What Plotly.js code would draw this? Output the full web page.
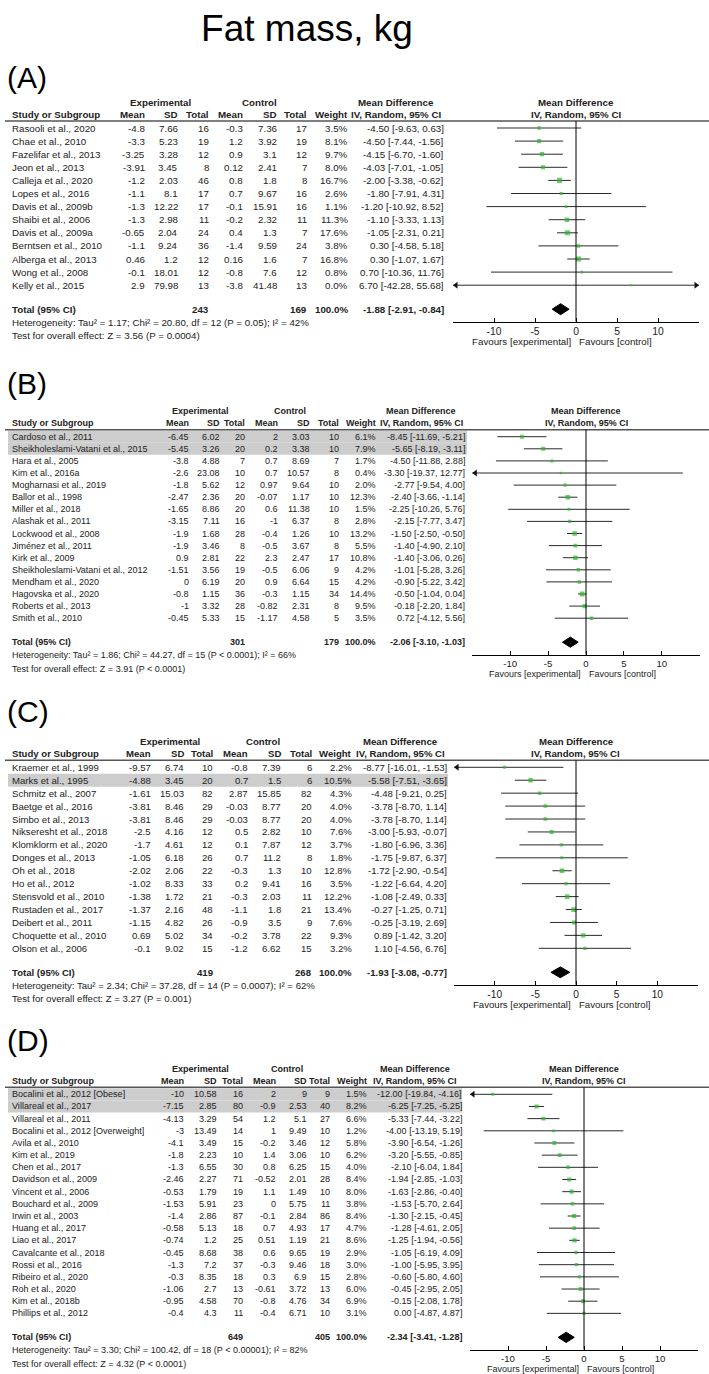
<!DOCTYPE html>
<html><head><meta charset="utf-8">
<script src="https://cdn.plot.ly/plotly-3.0.1.min.js"></script>
<style>html,body{margin:0;padding:0;background:#fff}#chart{width:709px;height:1374px}</style>
</head><body><div id="chart"></div>
<script>
// ---------- Panel A ----------
const studiesA = ["Rasooli et al., 2020","Chae et al., 2010","Fazelifar et al., 2013","Jeon et al., 2013","Calleja et al., 2020","Lopes et al., 2016","Davis et al., 2009b","Shaibi et al., 2006","Davis et al., 2009a","Berntsen et al., 2010","Alberga et al., 2013","Wong et al., 2008","Kelly et al., 2015"];
const expMeanA = [-4.8,-3.3,-3.25,-3.91,-1.2,-1.1,-1.3,-1.3,-0.65,-1.1,0.46,-0.1,2.9];
const expSDA = [7.66,5.23,3.28,3.45,2.03,8.1,12.22,2.98,2.04,9.24,1.2,18.01,79.98];
const expNA = [16,19,12,8,46,17,17,11,24,36,12,12,13];
const ctlMeanA = [-0.3,1.2,0.9,0.12,0.8,0.7,-0.1,-0.2,0.4,-1.4,0.16,-0.8,-3.8];
const ctlSDA = [7.36,3.92,3.1,2.41,1.8,9.67,15.91,2.32,1.3,9.59,1.6,7.6,41.48];
const ctlNA = [17,19,12,7,8,16,16,11,7,24,7,12,13];
const weightA = [3.5,8.1,9.7,8.0,16.7,2.6,1.1,11.3,17.6,3.8,16.8,0.8,0.0];
const mdA = [-4.50,-4.50,-4.15,-4.03,-2.00,-1.80,-1.20,-1.10,-1.05,0.30,0.30,0.70,6.70];
const loA = [-9.63,-7.44,-6.70,-7.01,-3.38,-7.91,-10.92,-3.33,-2.31,-4.58,-1.07,-10.36,-42.28];
const hiA = [0.63,-1.56,-1.60,-1.05,-0.62,4.31,8.52,1.13,0.21,5.18,1.67,11.76,55.68];
const highlightA = [];
const totalNA = [243,169];
const pooledA = [-1.88,-2.91,-0.84];
const hetA = "Heterogeneity: Tau² = 1.17; Chi² = 20.80, df = 12 (P = 0.05); I² = 42%";
const testA = "Test for overall effect: Z = 3.56 (P = 0.0004)";

// ---------- Panel B ----------
const studiesB = ["Cardoso et al., 2011","Sheikholeslami-Vatani et al., 2015","Hara et al., 2005","Kim et al., 2016a","Mogharnasi et al., 2019","Ballor et al., 1998","Miller et al., 2018","Alashak et al., 2011","Lockwood et al., 2008","Jiménez et al., 2011","Kirk et al., 2009","Sheikholeslami-Vatani et al., 2012","Mendham et al., 2020","Hagovska et al., 2020","Roberts et al., 2013","Smith et al., 2010"];
const expMeanB = [-6.45,-5.45,-3.8,-2.6,-1.8,-2.47,-1.65,-3.15,-1.9,-1.9,0.9,-1.51,0,-0.8,-1,-0.45];
const expSDB = [6.02,3.26,4.88,23.08,5.62,2.36,8.86,7.11,1.68,3.46,2.81,3.56,6.19,1.15,3.32,5.33];
const expNB = [20,20,7,10,12,20,20,16,28,8,22,19,20,36,28,15];
const ctlMeanB = [2,0.2,0.7,0.7,0.97,-0.07,0.6,-1,-0.4,-0.5,2.3,-0.5,0.9,-0.3,-0.82,-1.17];
const ctlSDB = [3.03,3.38,8.69,10.57,9.64,1.17,11.38,6.37,1.26,3.67,2.47,6.06,6.64,1.15,2.31,4.58];
const ctlNB = [10,10,7,8,10,10,10,8,10,8,17,9,15,34,8,5];
const weightB = [6.1,7.9,1.7,0.4,2.0,12.3,1.5,2.8,13.2,5.5,10.8,4.2,4.2,14.4,9.5,3.5];
const mdB = [-8.45,-5.65,-4.50,-3.30,-2.77,-2.40,-2.25,-2.15,-1.50,-1.40,-1.40,-1.01,-0.90,-0.50,-0.18,0.72];
const loB = [-11.69,-8.19,-11.88,-19.37,-9.54,-3.66,-10.26,-7.77,-2.50,-4.90,-3.06,-5.28,-5.22,-1.04,-2.20,-4.12];
const hiB = [-5.21,-3.11,2.88,12.77,4.00,-1.14,5.76,3.47,-0.50,2.10,0.26,3.26,3.42,0.04,1.84,5.56];
const highlightB = [0,1];
const totalNB = [301,179];
const pooledB = [-2.06,-3.10,-1.03];
const hetB = "Heterogeneity: Tau² = 1.86; Chi² = 44.27, df = 15 (P &lt; 0.0001); I² = 66%";
const testB = "Test for overall effect: Z = 3.91 (P &lt; 0.0001)";

// ---------- Panel C ----------
const studiesC = ["Kraemer et al., 1999","Marks et al., 1995","Schmitz et al., 2007","Baetge et al., 2016","Simbo et al., 2013","Nikseresht et al., 2018","Klomklorm et al., 2020","Donges et al., 2013","Oh et al., 2018","Ho et al., 2012","Stensvold et al., 2010","Rustaden et al., 2017","Deibert et al., 2011","Choquette et al., 2010","Olson et al., 2006"];
const expMeanC = [-9.57,-4.88,-1.61,-3.81,-3.81,-2.5,-1.7,-1.05,-2.02,-1.02,-1.38,-1.37,-1.15,0.69,-0.1];
const expSDC = [6.74,3.45,15.03,8.46,8.46,4.16,4.61,6.18,2.06,8.33,1.72,2.16,4.82,5.02,9.02];
const expNC = [10,20,82,29,29,12,12,26,22,33,21,48,26,34,15];
const ctlMeanC = [-0.8,0.7,2.87,-0.03,-0.03,0.5,0.1,0.7,-0.3,0.2,-0.3,-1.1,-0.9,-0.2,-1.2];
const ctlSDC = [7.39,1.5,15.85,8.77,8.77,2.82,7.87,11.2,1.3,9.41,2.03,1.8,3.5,3.78,6.62];
const ctlNC = [6,6,82,20,20,10,12,8,10,16,11,21,9,22,15];
const weightC = [2.2,10.5,4.3,4.0,4.0,7.6,3.7,1.8,12.8,3.5,12.2,13.4,7.6,9.3,3.2];
const mdC = [-8.77,-5.58,-4.48,-3.78,-3.78,-3.00,-1.80,-1.75,-1.72,-1.22,-1.08,-0.27,-0.25,0.89,1.10];
const loC = [-16.01,-7.51,-9.21,-8.70,-8.70,-5.93,-6.96,-9.87,-2.90,-6.64,-2.49,-1.25,-3.19,-1.42,-4.56];
const hiC = [-1.53,-3.65,0.25,1.14,1.14,-0.07,3.36,6.37,-0.54,4.20,0.33,0.71,2.69,3.20,6.76];
const highlightC = [1];
const totalNC = [419,268];
const pooledC = [-1.93,-3.08,-0.77];
const hetC = "Heterogeneity: Tau² = 2.34; Chi² = 37.28, df = 14 (P = 0.0007); I² = 62%";
const testC = "Test for overall effect: Z = 3.27 (P = 0.001)";

// ---------- Panel D ----------
const studiesD = ["Bocalini et al., 2012 [Obese]","Villareal et al., 2017","Villareal et al., 2011","Bocalini et al., 2012 [Overweight]","Avila et al., 2010","Kim et al., 2019","Chen et al., 2017","Davidson et al., 2009","Vincent et al., 2006","Bouchard et al., 2009","Irwin et al., 2003","Huang et al., 2017","Liao et al., 2017","Cavalcante et al., 2018","Rossi et al., 2016","Ribeiro et al., 2020","Roh et al., 2020","Kim et al., 2018b","Phillips et al., 2012"];
const expMeanD = [-10,-7.15,-4.13,-3,-4.1,-1.8,-1.3,-2.46,-0.53,-1.53,-1.4,-0.58,-0.74,-0.45,-1.3,-0.3,-1.06,-0.95,-0.4];
const expSDD = [10.58,2.85,3.29,13.49,3.49,2.23,6.55,2.27,1.79,5.91,2.86,5.13,1.2,8.68,7.2,8.35,2.7,4.58,4.3];
const expND = [16,80,54,14,15,10,30,71,19,23,87,18,25,38,37,18,13,70,11];
const ctlMeanD = [2,-0.9,1.2,1,-0.2,1.4,0.8,-0.52,1.1,0,-0.1,0.7,0.51,0.6,-0.3,0.3,-0.61,-0.8,-0.4];
const ctlSDD = [9,2.53,5.1,9.49,3.46,3.06,6.25,2.01,1.49,5.75,2.84,4.93,1.19,9.65,9.46,6.9,3.72,4.76,6.71];
const ctlND = [9,40,27,10,12,10,15,28,10,11,86,17,21,19,18,15,13,34,10];
const weightD = [1.5,8.2,6.6,1.2,5.8,6.2,4.0,8.4,8.0,3.8,8.4,4.7,8.6,2.9,3.0,2.8,6.0,6.9,3.1];
const mdD = [-12.00,-6.25,-5.33,-4.00,-3.90,-3.20,-2.10,-1.94,-1.63,-1.53,-1.30,-1.28,-1.25,-1.05,-1.00,-0.60,-0.45,-0.15,0.00];
const loD = [-19.84,-7.25,-7.44,-13.19,-6.54,-5.55,-6.04,-2.85,-2.86,-5.70,-2.15,-4.61,-1.94,-6.19,-5.95,-5.80,-2.95,-2.08,-4.87];
const hiD = [-4.16,-5.25,-3.22,5.19,-1.26,-0.85,1.84,-1.03,-0.40,2.64,-0.45,2.05,-0.56,4.09,3.95,4.60,2.05,1.78,4.87];
const highlightD = [0,1];
const totalND = [649,405];
const pooledD = [-2.34,-3.41,-1.28];
const hetD = "Heterogeneity: Tau² = 3.30; Chi² = 100.42, df = 18 (P &lt; 0.00001); I² = 82%";
const testD = "Test for overall effect: Z = 4.32 (P &lt; 0.0001)";

// ---------- shared labels ----------
const colHeaders = ["Mean","SD","Total","Mean","SD","Total","Weight"];
const tickVals = [-10,-5,0,5,10];
const tickText = ["-10","-5","0","5","10"];
const chartTitle = "Fat mass, kg";

// ---------- layout geometry (pixels) ----------
const W = 709, H = 1374;
const FONT = "Liberation Sans, Arial, sans-serif";
const TXT = "#222";
const GREEN = "#2fb52f";

const panels = [
  {label:"(A)", labelPx:77, firstPx:128, rowPx:13.1, zeroPx:576, unitPx:8.2, fs:9.75,
   cols:[145,178,209,243,277,307,348,444], expHdr:161, ctlHdr:259, mdHdr:396, bandRight:445,
   studies:studiesA, em:expMeanA, esd:expSDA, en:expNA, cm:ctlMeanA, csd:ctlSDA, cn:ctlNA,
   w:weightA, md:mdA, lo:loA, hi:hiA, hl:highlightA, totN:totalNA, pooled:pooledA, het:hetA, test:testA},
  {label:"(B)", labelPx:383, firstPx:436.7, rowPx:12.1, zeroPx:586, unitPx:7.58, fs:9.0,
   cols:[189,220,245,278,310,339,376,465], expHdr:200, ctlHdr:290, mdHdr:421, bandRight:467,
   studies:studiesB, em:expMeanB, esd:expSDB, en:expNB, cm:ctlMeanB, csd:ctlSDB, cn:ctlNB,
   w:weightB, md:mdB, lo:loB, hi:hiB, hl:highlightB, totN:totalNB, pooled:pooledB, het:hetB, test:testB},
  {label:"(C)", labelPx:712, firstPx:767.3, rowPx:12.93, zeroPx:576, unitPx:8.13, fs:9.6,
   cols:[150.7,184,213.3,247.7,281,311.7,351.7,446.7], expHdr:170, ctlHdr:263, mdHdr:400, bandRight:448,
   studies:studiesC, em:expMeanC, esd:expSDC, en:expNC, cm:ctlMeanC, csd:ctlSDC, cn:ctlNC,
   w:weightC, md:mdC, lo:loC, hi:hiC, hl:highlightC, totN:totalNC, pooled:pooledC, het:hetC, test:testC},
  {label:"(D)", labelPx:1040, firstPx:1094.3, rowPx:12.17, zeroPx:584, unitPx:7.6, fs:9.05,
   cols:[184,217.3,242.7,275.7,306.7,330,367.3,461.7], expHdr:200, ctlHdr:286.7, mdHdr:415, bandRight:462,
   studies:studiesD, em:expMeanD, esd:expSDD, en:expND, cm:ctlMeanD, csd:ctlSDD, cn:ctlND,
   w:weightD, md:mdD, lo:loD, hi:hiD, hl:highlightD, totN:totalND, pooled:pooledD, het:hetD, test:testD}
];

const data = [], annotations = [], shapes = [];
const layout = {
  width: W, height: H,
  margin: {l:0, r:0, t:0, b:0, pad:0},
  paper_bgcolor: "#fff", plot_bgcolor: "rgba(0,0,0,0)",
  showlegend: false,
  title: {text: chartTitle, font:{family:FONT, size:37, color:"#000"},
          x: 307/W, xanchor:"center", y: 1-28/H, yanchor:"middle"},
  annotations: annotations, shapes: shapes
};

function fmtCI(m, l, h){ return m.toFixed(2)+" ["+l.toFixed(2)+", "+h.toFixed(2)+"]"; }
function add(text, x, xref, y, yref, xanchor, size, bold, extra){
  annotations.push(Object.assign({
    text: bold ? "<b>"+text+"</b>" : text,
    x:x, xref:xref, y:y, yref:yref, xanchor:xanchor, yanchor:"middle",
    showarrow:false, borderpad:0, borderwidth:0,
    font:{family:FONT, size:size, color:TXT}
  }, extra || {}));
}

panels.forEach(function(p, k){
  const sfx = k === 0 ? "" : String(k+1);
  const xa = "x"+sfx, ya = "y"+sfx;
  const n = p.studies.length;
  const lastPx = p.firstPx + (n-1)*p.rowPx;
  const totalPx = lastPx + 24;
  const px = {
    exp: p.firstPx - 25.5,
    hdr: p.firstPx - 13.8,
    line: p.firstPx - 7,
    total: totalPx,
    axis: totalPx + 12.3,
    het: totalPx + 13,
    test: totalPx + 26.5,
    fav: totalPx + 32
  };
  const row = function(v){ return (v - p.firstPx)/p.rowPx; };
  const topPx = px.exp - 12, botPx = Math.min(H, px.fav + 8);
  const fs = p.fs;

  layout["yaxis"+sfx] = {domain:[1-botPx/H, 1-topPx/H], range:[row(botPx), row(topPx)],
    visible:false, fixedrange:true};
  layout["xaxis"+sfx] = {domain:[(p.zeroPx-15*p.unitPx)/W, (p.zeroPx+15*p.unitPx)/W],
    range:[-15,15], anchor:"free", position:1-px.axis/H,
    showline:true, linecolor:"#000", linewidth:1, ticks:"inside", ticklen:4, tickcolor:"#000",
    ticklabelstandoff:0,
    tickvals:tickVals, ticktext:tickText, tickfont:{family:FONT, size:fs+0.6, color:TXT},
    showgrid:false, zeroline:false, fixedrange:true};

  // highlighted rows
  p.hl.forEach(function(r){
    shapes.push({type:"rect", xref:"paper", yref:ya, x0:8/W, x1:p.bandRight/W, y0:r-0.5, y1:r+0.5,
      fillcolor:"#cdcdcd", line:{width:0}, layer:"below"});
  });
  // header rule
  shapes.push({type:"line", xref:"paper", yref:ya, x0:5/W, x1:1, y0:row(px.line), y1:row(px.line),
    line:{color:"#555", width:1.5}});
  // line of no effect
  shapes.push({type:"line", xref:xa, yref:ya, x0:0, x1:0, y0:row(px.line), y1:row(px.axis),
    line:{color:"#000", width:1}});

  // CI lines
  const cx = [], cy = [];
  p.lo.forEach(function(l, i){ cx.push(l, p.hi[i], null); cy.push(i, i, null); });
  data.push({type:"scatter", mode:"lines", x:cx, y:cy, xaxis:xa, yaxis:ya,
    line:{color:"#2a2a2a", width:1}, hoverinfo:"skip", connectgaps:false});

  // arrows for CIs beyond the axis
  const arx = [], ary = [], ars = [];
  p.lo.forEach(function(l, i){
    if (l < -15){ arx.push(-15 + 3/p.unitPx); ary.push(i); ars.push("triangle-left"); }
    if (p.hi[i] > 15){ arx.push(15 - 3/p.unitPx); ary.push(i); ars.push("triangle-right"); }
  });
  if (arx.length) data.push({type:"scatter", mode:"markers", x:arx, y:ary, xaxis:xa, yaxis:ya,
    marker:{symbol:ars, size:6, color:"#111"}, cliponaxis:false, hoverinfo:"skip"});

  // point estimates
  data.push({type:"scatter", mode:"markers", x:p.md, y:p.md.map(function(_, i){ return i; }),
    xaxis:xa, yaxis:ya, hoverinfo:"skip",
    marker:{symbol:"square", color:GREEN, size:p.w.map(function(w){ return 2 + 0.75*Math.sqrt(w); }), line:{width:0}}});

  // pooled diamond
  const tr = row(px.total), hh = 0.42;
  data.push({type:"scatter", mode:"lines", xaxis:xa, yaxis:ya, hoverinfo:"skip",
    x:[p.pooled[1], p.pooled[0], p.pooled[2], p.pooled[0], p.pooled[1]],
    y:[tr, tr-hh, tr, tr+hh, tr], fill:"toself", fillcolor:"#000", line:{color:"#000", width:1}});

  // panel label
  add(p.label, 7/W, "paper", 1-p.labelPx/H, "paper", "left", 30, false, {font:{family:FONT, size:30, color:"#000"}});

  // header rows
  const rExp = row(px.exp), rHdr = row(px.hdr);
  add("Experimental", p.expHdr/W, "paper", rExp, ya, "center", fs, true);
  add("Control", p.ctlHdr/W, "paper", rExp, ya, "center", fs, true);
  add("Mean Difference", p.mdHdr/W, "paper", rExp, ya, "center", fs, true);
  add("Mean Difference", 0, xa, rExp, ya, "center", fs, true);
  add("Study or Subgroup", 11.7/W, "paper", rHdr, ya, "left", fs, true);
  colHeaders.forEach(function(h, c){ add(h, p.cols[c]/W, "paper", rHdr, ya, "right", fs, true); });
  add("IV, Random, 95% CI", p.mdHdr/W, "paper", rHdr, ya, "center", fs, true);
  add("IV, Random, 95% CI", 0, xa, rHdr, ya, "center", fs, true);

  // study rows
  const colVals = [p.em, p.esd, p.en, p.cm, p.csd, p.cn];
  p.studies.forEach(function(s, i){
    add(s, 11.7/W, "paper", i, ya, "left", fs);
    colVals.forEach(function(arr, c){ add(String(arr[i]), p.cols[c]/W, "paper", i, ya, "right", fs); });
    add(p.w[i].toFixed(1)+"%", p.cols[6]/W, "paper", i, ya, "right", fs);
    add(fmtCI(p.md[i], p.lo[i], p.hi[i]), p.cols[7]/W, "paper", i, ya, "right", fs);
  });

  // total row
  add("Total (95% CI)", 11.7/W, "paper", tr, ya, "left", fs, true);
  add(String(p.totN[0]), p.cols[2]/W, "paper", tr, ya, "right", fs, true);
  add(String(p.totN[1]), p.cols[5]/W, "paper", tr, ya, "right", fs, true);
  add((100).toFixed(1)+"%", p.cols[6]/W, "paper", tr, ya, "right", fs, true);
  add(fmtCI(p.pooled[0], p.pooled[1], p.pooled[2]), p.cols[7]/W, "paper", tr, ya, "right", fs, true);
  add(p.het, 11.7/W, "paper", row(px.het), ya, "left", fs);
  add(p.test, 11.7/W, "paper", row(px.test), ya, "left", fs);

  // favours labels
  add("Favours [experimental]", 0, xa, row(px.fav), ya, "right", fs, false, {xshift:-5});
  add("Favours [control]", 0, xa, row(px.fav), ya, "left", fs, false, {xshift:3});
});

Plotly.newPlot("chart", data, layout, {staticPlot:true, displayModeBar:false});
</script>
</body></html>
